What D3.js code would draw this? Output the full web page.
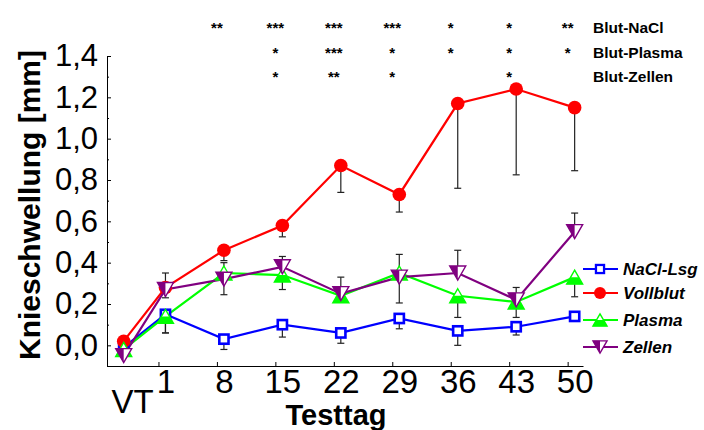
<!DOCTYPE html>
<html>
<head>
<meta charset="utf-8">
<script src="https://cdn.jsdelivr.net/npm/d3@7"></script>
<style>
  html, body { margin: 0; padding: 0; background: #fff; }
  svg { display: block; font-family: "Liberation Sans", Arial, sans-serif; }
</style>
</head>
<body>
<svg id="chart" width="704" height="430"></svg>
<script>
// ---------- data ----------
const days = [-4, 1, 8, 15, 22, 29, 36, 43, 50];
const dayLabels = ["VT", "1", "8", "15", "22", "29", "36", "43", "50"];

const naclValues     = [-0.01, 0.15, 0.03, 0.10, 0.06, 0.13, 0.07, 0.09, 0.14];
const naclErr        = [0.02, 0.09, 0.05, 0.06, 0.05, 0.05, 0.07, 0.04, 0.02];
const vollblutValues = [0.02, 0.28, 0.46, 0.58, 0.87, 0.73, 1.17, 1.24, 1.15];
const vollblutErr    = [0.02, 0.05, 0.05, 0.055, 0.13, 0.085, 0.41, 0.415, 0.305];
const plasmaValues   = [-0.02, 0.14, 0.35, 0.34, 0.24, 0.35, 0.24, 0.21, 0.33];
const plasmaErr      = [0.02, 0.08, 0.105, 0.07, 0.03, 0.145, 0.105, 0.075, 0.095];
const zellenValues   = [-0.05, 0.27, 0.32, 0.38, 0.25, 0.33, 0.35, 0.22, 0.55];
const zellenErr      = [0.03, 0.08, 0.08, 0.05, 0.08, 0.11, 0.11, 0.06, 0.09];

const yTicks = [0, 0.2, 0.4, 0.6, 0.8, 1.0, 1.2, 1.4];
const yMinorTicks = [-0.1, 0.1, 0.3, 0.5, 0.7, 0.9, 1.1, 1.3];

const sigLabels = ["Blut-NaCl", "Blut-Plasma", "Blut-Zellen"];
const sigNaCl   = ["", "", "**", "***", "***", "***", "*", "*", "**"];
const sigPlasma = ["", "", "", "*", "***", "*", "*", "*", "*"];
const sigZellen = ["", "", "", "*", "**", "*", "", "*", ""];

const seriesNames = ["NaCl-Lsg", "Vollblut", "Plasma", "Zellen"];
const seriesColors = ["#0000ff", "#ff0000", "#00ff00", "#800080"];

// ---------- setup ----------
const svg = d3.select("#chart");
const x = d3.scaleLinear().domain([-6, 51]).range([107, 583]);
const y = d3.scaleLinear().domain([-0.1, 1.4]).range([366, 56]);
const fmt = d3.formatLocale({decimal: ",", thousands: ".", grouping: [3], currency: ["", "€"]}).format(".1f");

const series = [
  {name: seriesNames[0], color: seriesColors[0], values: naclValues, err: naclErr, dir: -1, shape: "square"},
  {name: seriesNames[1], color: seriesColors[1], values: vollblutValues, err: vollblutErr, dir: -1, shape: "circle"},
  {name: seriesNames[2], color: seriesColors[2], values: plasmaValues, err: plasmaErr, dir: -1, shape: "up"},
  {name: seriesNames[3], color: seriesColors[3], values: zellenValues, err: zellenErr, dir: 1, shape: "down"}
];

// ---------- axes ----------
const yAxis = d3.axisLeft(y).tickValues(yTicks).tickFormat(fmt)
  .tickSizeInner(-4).tickSizeOuter(0).tickPadding(9);
const gy = svg.append("g").attr("transform", "translate(107,0)").call(yAxis);
gy.selectAll("text").style("font-size", "31px").attr("fill", "#000");
gy.select(".domain").attr("stroke", "#000");

const yMinor = d3.axisLeft(y).tickValues(yMinorTicks).tickFormat("")
  .tickSizeInner(-2).tickSizeOuter(0);
const gym = svg.append("g").attr("transform", "translate(107,0)").call(yMinor);
gym.select(".domain").remove();

const xTickDays = days.slice(1);
const xAxis = d3.axisBottom(x).tickValues(xTickDays)
  .tickFormat((d) => dayLabels[days.indexOf(d)])
  .tickSizeInner(-4).tickSizeOuter(0).tickPadding(4);
const gx = svg.append("g").attr("transform", "translate(0,366)").call(xAxis);
gx.selectAll("text").style("font-size", "33px").attr("fill", "#000");
gx.selectAll(".tick line").attr("x1", -7).attr("x2", -7);
gx.select(".domain").attr("stroke", "#000");

// VT label (lowered)
svg.append("text").attr("x", x(days[0]) + 9).attr("y", 413)
  .attr("text-anchor", "middle").style("font-size", "33px").text(dayLabels[0]);

// axis titles
svg.append("text").attr("x", 336).attr("y", 425).attr("text-anchor", "middle")
  .style("font-size", "29px").style("font-weight", "bold").text("Testtag");
svg.append("text").attr("transform", "translate(40,205) rotate(-90)")
  .attr("text-anchor", "middle").style("font-size", "30px").style("font-weight", "bold")
  .text("Knieschwellung [mm]");

// ---------- error bars ----------
const eb = svg.append("g").attr("stroke", "#222").attr("stroke-width", 1.2);
series.forEach((s) => {
  s.values.forEach((v, i) => {
    const e = s.err[i];
    if (!e) return;
    const cx = x(days[i]);
    const y0 = y(v), y1 = y(v + s.dir * e);
    eb.append("line").attr("x1", cx).attr("x2", cx).attr("y1", y0).attr("y2", y1);
    eb.append("line").attr("x1", cx - 3.5).attr("x2", cx + 3.5).attr("y1", y1).attr("y2", y1);
  });
});

// ---------- lines ----------
const line = d3.line().x((d, i) => x(days[i])).y((d) => y(d));
series.forEach((s) => {
  svg.append("path").datum(s.values).attr("d", line)
    .attr("fill", "none").attr("stroke", s.color).attr("stroke-width", 2.2);
});

// ---------- markers ----------
function drawMarker(g, shape, color, k) {
  if (shape === "square") {
    g.append("rect").attr("x", -4.6 * k).attr("y", -4.6 * k).attr("width", 9.2 * k).attr("height", 9.2 * k)
      .attr("fill", "#fff").attr("stroke", color).attr("stroke-width", 2.6 * k);
  } else if (shape === "circle") {
    g.append("circle").attr("r", 6.8 * k).attr("fill", color);
  } else if (shape === "up") {
    const w = 8 * k, h = 7 * k;
    g.append("path").attr("d", `M0,${-h}L${w},${h}L${-w},${h}Z`).attr("fill", "#fff");
    g.append("path").attr("d", `M${-w / 2},0L${w / 2},0L${w},${h}L${-w},${h}Z`).attr("fill", color);
    g.append("path").attr("d", `M0,${-h}L${w},${h}L${-w},${h}Z`).attr("fill", "none")
      .attr("stroke", color).attr("stroke-width", 1.4).attr("stroke-linejoin", "miter");
  } else if (shape === "down") {
    const w = 8 * k, h = 7 * k;
    g.append("path").attr("d", `M${-w},${-h}L${w},${-h}L0,${h}Z`).attr("fill", "#fff");
    g.append("path").attr("d", `M${-w},${-h}L0,${-h}L0,${h}Z`).attr("fill", color);
    g.append("path").attr("d", `M${-w},${-h}L${w},${-h}L0,${h}Z`).attr("fill", "none")
      .attr("stroke", color).attr("stroke-width", 1.4);
  }
}
series.forEach((s) => {
  s.values.forEach((v, i) => {
    const g = svg.append("g").attr("transform", `translate(${x(days[i])},${y(v)})`);
    drawMarker(g, s.shape, s.color, 1);
  });
});

// ---------- legend ----------
const legendY = [269, 293, 320, 347];
series.forEach((s, i) => {
  const g = svg.append("g").attr("transform", `translate(600,${legendY[i]})`);
  g.append("line").attr("x1", -17).attr("x2", 18).attr("stroke", s.color).attr("stroke-width", 2.2);
  drawMarker(g, s.shape, s.color, 0.88);
  g.append("text").attr("x", 23).attr("y", 6).style("font-size", "17px")
    .style("font-weight", "bold").style("font-style", "italic").text(s.name);
});

// ---------- significance ----------
const sigRows = [sigNaCl, sigPlasma, sigZellen];
const sigBase = [33, 58, 82];
sigRows.forEach((row, r) => {
  row.forEach((txt, i) => {
    if (!txt) return;
    svg.append("text").attr("x", x(days[i]) - 7).attr("y", sigBase[r])
      .attr("text-anchor", "middle").style("font-size", "15px").style("font-weight", "bold").text(txt);
  });
  svg.append("text").attr("x", 593).attr("y", sigBase[r])
    .style("font-size", "15.5px").style("font-weight", "bold").text(sigLabels[r]);
});
</script>
</body>
</html>
